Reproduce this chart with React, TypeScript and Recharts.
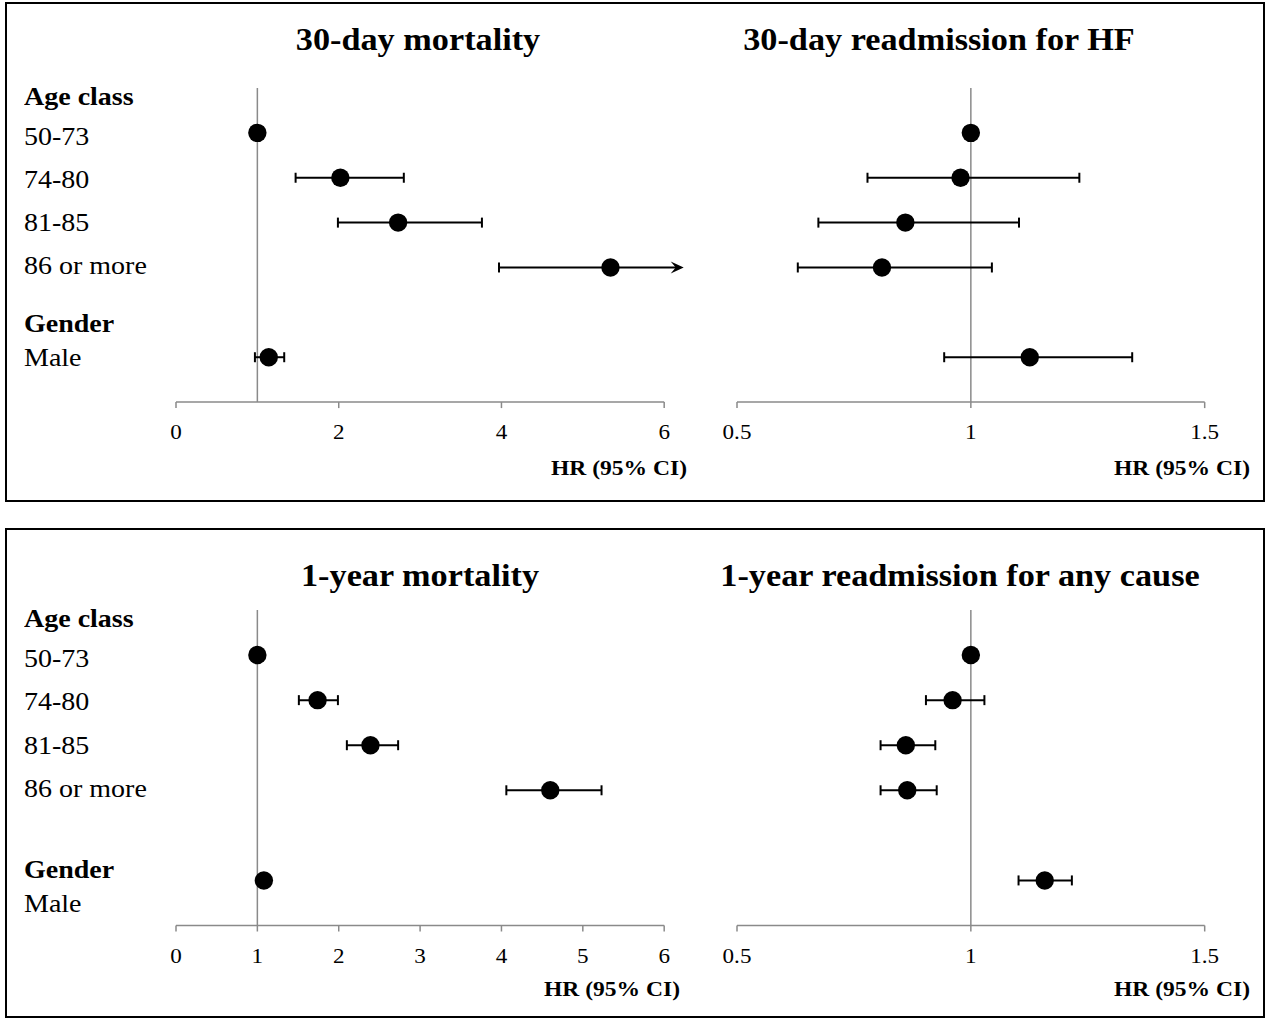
import React from 'react';
import { ErrorBar, ReferenceLine, Scatter, ScatterChart, XAxis, YAxis } from 'recharts';

const FONT = '"Liberation Serif", "Times New Roman", serif';

// Row order down each forest plot; headers carry no estimate.
const rowLabels = ['Age class', '50-73', '74-80', '81-85', '86 or more', 'Gender', 'Male'];
const headerRows = ['Age class', 'Gender'];
const estimateRows = ['50-73', '74-80', '81-85', '86 or more', 'Male'];

// Upper limit that runs past the end of the axis (drawn as an arrow).
const OFF_SCALE = Infinity;

const mort30Hr = [1, 2.02, 2.73, 5.34, 1.14];
const mort30Lo = [null, 1.47, 1.99, 3.97, 0.97];
const mort30Hi = [null, 2.8, 3.76, OFF_SCALE, 1.33];

const readm30Hr = [1, 0.978, 0.86, 0.81, 1.126];
const readm30Lo = [null, 0.779, 0.674, 0.63, 0.943];
const readm30Hi = [null, 1.232, 1.103, 1.045, 1.345];

const mort1yHr = [1, 1.74, 2.39, 4.6, 1.08];
const mort1yLo = [null, 1.51, 2.1, 4.06, null];
const mort1yHi = [null, 1.99, 2.73, 5.23, null];

const readm1yHr = [1, 0.961, 0.861, 0.864, 1.158];
const readm1yLo = [null, 0.904, 0.807, 0.807, 1.102];
const readm1yHi = [null, 1.029, 0.924, 0.927, 1.216];

const mort30Ticks = [0, 2, 4, 6];
const mort1yTicks = [0, 1, 2, 3, 4, 5, 6];
const readmTicks = [0.5, 1, 1.5];

const ARROW_END = 6.24;

const topLabelY = [96.7, 136.7, 179, 222.5, 265.7, 323, 357.5];
const bottomLabelY = [618.3, 658.3, 701.7, 745, 788.3, 869.3, 903.3];

const panels = [
  {
    title: '30-day mortality',
    hr: mort30Hr, lo: mort30Lo, hi: mort30Hi,
    domain: [0, 6], ticks: mort30Ticks,
    plot: { x0: 176.3, x1: 664.5, y0: 87.6, y1: 401.7 },
    titleAt: [418, 39], axisTitleAt: [687, 469],
  },
  {
    title: '30-day readmission for HF',
    hr: readm30Hr, lo: readm30Lo, hi: readm30Hi,
    domain: [0.5, 1.5], ticks: readmTicks,
    plot: { x0: 737.3, x1: 1205, y0: 87.6, y1: 401.7 },
    titleAt: [939, 39], axisTitleAt: [1249.5, 469],
  },
  {
    title: '1-year mortality',
    hr: mort1yHr, lo: mort1yLo, hi: mort1yHi,
    domain: [0, 6], ticks: mort1yTicks,
    plot: { x0: 176.3, x1: 664.5, y0: 609.5, y1: 925 },
    titleAt: [420, 574.5], axisTitleAt: [680, 989.5],
  },
  {
    title: '1-year readmission for any cause',
    hr: readm1yHr, lo: readm1yLo, hi: readm1yHi,
    domain: [0.5, 1.5], ticks: readmTicks,
    plot: { x0: 737.3, x1: 1205, y0: 609.5, y1: 925 },
    titleAt: [959.5, 574.5], axisTitleAt: [1249.5, 989.5],
  },
];

function buildRows(hr: number[], lo: (number | null)[], hi: (number | null)[]) {
  return estimateRows.map((label, i) => {
    const low = lo[i];
    const high = hi[i];
    const closed = low != null && high != null && Number.isFinite(high);
    return {
      label,
      row: rowLabels.indexOf(label),
      hr: hr[i],
      err: closed ? [hr[i] - (low as number), (high as number) - hr[i]] : undefined,
      openLo: low != null && high === OFF_SCALE ? low : undefined,
    };
  });
}

const Dot = (props: any) => <circle cx={props.cx} cy={props.cy} r={9.2} fill="#000" />;

const AxisTick = (props: any) => {
  const { x, y, payload } = props;
  return (
    <g transform={`translate(${x},${y}) scale(1.1,1)`}>
      <text x={0} y={22} textAnchor="middle" dominantBaseline="central" fontFamily={FONT} fontSize={21} fill="#000">
        {payload.value}
      </text>
    </g>
  );
};

// CI whose upper limit is off the axis: left cap plus an arrow head
const OpenInterval = (props: any) => {
  const { x1, y1, x2 } = props;
  return (
    <g>
      <line x1={x1} y1={y1} x2={x2 - 4} y2={y1} stroke="#000" strokeWidth={2} />
      <line x1={x1} y1={y1 - 5} x2={x1} y2={y1 + 5} stroke="#000" strokeWidth={2} />
      <path d={`M${x2},${y1} L${x2 - 13},${y1 - 6} L${x2 - 8},${y1} L${x2 - 13},${y1 + 6} Z`} fill="#000" />
    </g>
  );
};

function Forest({ panel }: { panel: (typeof panels)[number] }) {
  const { plot } = panel;
  const padL = 30;
  const padR = 40;
  const padT = 4;
  const axisH = 46;
  const width = plot.x1 - plot.x0 + padL + padR;
  const height = plot.y1 - plot.y0 + padT + axisH;
  const rows = buildRows(panel.hr, panel.lo, panel.hi);

  return (
    <div style={{ position: 'absolute', left: plot.x0 - padL, top: plot.y0 - padT }}>
      <ScatterChart width={width} height={height} margin={{ top: padT, right: padR, bottom: 0, left: padL }}>
        <XAxis
          type="number"
          dataKey="hr"
          domain={panel.domain}
          ticks={panel.ticks}
          interval={0}
          allowDataOverflow
          height={axisH}
          axisLine={{ stroke: '#8a8a8a', strokeWidth: 1.5 }}
          tickLine={{ stroke: '#8a8a8a', strokeWidth: 1.5 }}
          tickSize={6}
          tick={<AxisTick />}
        />
        <YAxis type="number" dataKey="row" domain={[0, 7]} reversed hide allowDataOverflow />
        <ReferenceLine x={1} stroke="#8a8a8a" strokeWidth={1.5} />
        <Scatter data={rows} shape={Dot} isAnimationActive={false}>
          <ErrorBar
            dataKey={(p: any) => (p.payload ?? p).err}
            direction="x"
            width={5}
            stroke="#000"
            strokeWidth={2}
            isAnimationActive={false}
          />
        </Scatter>
        {rows
          .filter((r) => r.openLo != null)
          .map((r) => (
            <ReferenceLine
              key={r.label}
              segment={[{ x: r.openLo, y: r.row }, { x: ARROW_END, y: r.row }]}
              ifOverflow="visible"
              shape={OpenInterval}
            />
          ))}
      </ScatterChart>
    </div>
  );
}

type Align = 'left' | 'center' | 'right';

function Txt({ x, y, size, bold, align = 'left', stretch = 1.1, children }: {
  x: number; y: number; size: number; bold?: boolean; align?: Align; stretch?: number; children: React.ReactNode;
}) {
  const shift = align === 'left' ? '0' : align === 'center' ? '-50%' : '-100%';
  return (
    <div
      style={{
        position: 'absolute',
        left: x,
        top: y - size / 2,
        fontFamily: FONT,
        fontSize: size,
        fontWeight: bold ? 700 : 400,
        lineHeight: 1,
        whiteSpace: 'nowrap',
        color: '#000',
        transformOrigin: align,
        transform: `translateX(${shift}) scaleX(${stretch})`,
      }}
    >
      {children}
    </div>
  );
}

function RowLabels({ ys }: { ys: number[] }) {
  return (
    <>
      {rowLabels.map((label, i) => (
        <Txt key={label} x={23.5} y={ys[i]} size={25} bold={headerRows.includes(label)} stretch={1.12}>
          {label}
        </Txt>
      ))}
    </>
  );
}

export default function App() {
  const box = { position: 'absolute' as const, left: 5, width: 1260, border: '2px solid #000', boxSizing: 'border-box' as const };
  return (
    <div style={{ position: 'absolute', left: 0, top: 0, width: 1268, height: 1020, background: '#fff', overflow: 'hidden' }}>
      <div style={{ ...box, top: 2, height: 500 }} />
      <div style={{ ...box, top: 528, height: 490 }} />
      {panels.map((p) => (
        <React.Fragment key={p.title}>
          <Forest panel={p} />
          <Txt x={p.titleAt[0]} y={p.titleAt[1]} size={32} bold align="center" stretch={1.07}>
            {p.title}
          </Txt>
          <Txt x={p.axisTitleAt[0]} y={p.axisTitleAt[1]} size={21.6} bold align="right" stretch={1.09}>
            HR (95% CI)
          </Txt>
        </React.Fragment>
      ))}
      <RowLabels ys={topLabelY} />
      <RowLabels ys={bottomLabelY} />
    </div>
  );
}
